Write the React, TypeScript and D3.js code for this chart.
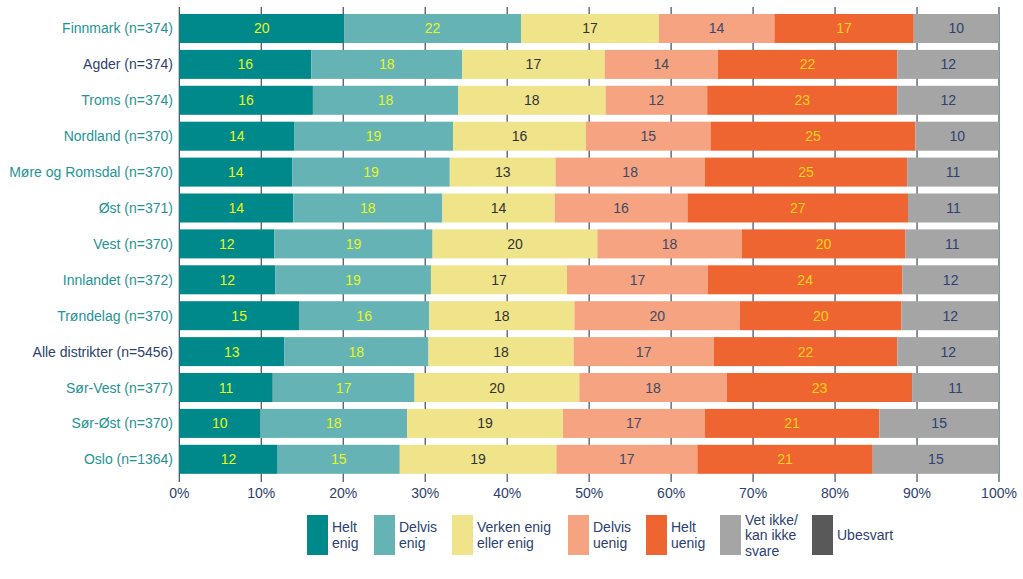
import React from "react";
import * as d3 from "d3";

const categories = [
  "Finnmark (n=374)",
  "Agder (n=374)",
  "Troms (n=374)",
  "Nordland (n=370)",
  "Møre og Romsdal (n=370)",
  "Øst (n=371)",
  "Vest (n=370)",
  "Innlandet (n=372)",
  "Trøndelag (n=370)",
  "Alle distrikter (n=5456)",
  "Sør-Vest (n=377)",
  "Sør-Øst (n=370)",
  "Oslo (n=1364)",
];
const highlighted = ["Agder (n=374)", "Alle distrikter (n=5456)"];

const seriesNames = ["Helt enig", "Delvis enig", "Verken enig eller enig", "Delvis uenig", "Helt uenig", "Vet ikke/ kan ikke svare", "Ubesvart"];
const legendLines = [["Helt", "enig"], ["Delvis", "enig"], ["Verken enig", "eller enig"], ["Delvis", "uenig"], ["Helt", "uenig"], ["Vet ikke/", "kan ikke", "svare"], ["Ubesvart"]];

const heltEnig = [20.1, 16.1, 16.3, 14.0, 13.8, 13.9, 11.6, 11.7, 14.6, 12.8, 11.4, 9.9, 12.0];
const delvisEnig = [21.6, 18.4, 17.7, 19.4, 19.2, 18.2, 19.3, 19.0, 15.9, 17.6, 17.3, 17.9, 14.9];
const verken = [16.8, 17.4, 18.0, 16.2, 12.9, 13.7, 20.1, 16.6, 17.7, 17.7, 20.1, 19.0, 19.1];
const delvisUenig = [14.1, 13.8, 12.4, 15.2, 18.2, 16.2, 17.6, 17.2, 20.2, 17.1, 18.0, 17.3, 17.2];
const heltUenig = [17.0, 21.9, 23.2, 25.0, 24.7, 26.9, 20.0, 23.7, 19.7, 22.4, 22.6, 21.3, 21.4];
const vetIkke = [10.4, 12.4, 12.4, 10.2, 11.2, 11.1, 11.4, 11.8, 11.9, 12.4, 10.6, 14.6, 15.4];
const ubesvart = [0, 0, 0, 0, 0, 0, 0, 0, 0, 0, 0, 0, 0];

const xTicks = [0, 10, 20, 30, 40, 50, 60, 70, 80, 90, 100];

const series = [heltEnig, delvisEnig, verken, delvisUenig, heltUenig, vetIkke, ubesvart];
const colors = ["#00898a", "#66b3b5", "#efe48a", "#f5a381", "#ef6531", "#a5a5a5", "#595959"];
const labelColors = ["#e8f51c", "#e8f51c", "#333333", "#3d4a66", "#ffd21a", "#2f4170", "#ffffff"];

const navy = "#2c4170";
const teal = "#1d9496";
const font = "'Liberation Sans', Arial, sans-serif";

export default function App() {
  const width = 1023;
  const height = 579;
  const x = d3.scaleLinear().domain([0, 100]).range([179.3, 999]);
  const y = d3.scaleBand<string>().domain(categories).range([7.1, 480.7]).padding(0.192);

  const rows = categories.map((c, i) => {
    let acc = 0;
    return series.map((s, k) => {
      const v = s[i];
      const seg = { k, x0: acc, x1: acc + v, v };
      acc += v;
      return seg;
    });
  });

  const legendX = [307, 374, 452, 568, 646, 720, 812];
  const fs = 14;

  return (
    <svg width={width} height={height} style={{ position: "absolute", left: 0, top: 0, fontFamily: font }}>
      <rect width={width} height={height} fill="#ffffff" />
      {xTicks.map((t) => (
        <line key={t} x1={x(t)} x2={x(t)} y1={7} y2={482} stroke="#3b4a68" strokeWidth={1.2} />
      ))}
      {categories.map((c, i) => (
        <g key={c}>
          {rows[i].map((s) =>
            s.v > 0 ? (
              <g key={s.k}>
                <rect x={x(s.x0)} y={y(c)} width={x(s.x1) - x(s.x0)} height={y.bandwidth()} fill={colors[s.k]} />
                <text
                  x={(x(s.x0) + x(s.x1)) / 2}
                  y={(y(c) as number) + y.bandwidth() / 2}
                  textAnchor="middle"
                  dominantBaseline="central"
                  fontSize={fs}
                  fill={labelColors[s.k]}
                >
                  {Math.round(s.v)}
                </text>
              </g>
            ) : null
          )}
          <text
            x={173}
            y={(y(c) as number) + y.bandwidth() / 2}
            textAnchor="end"
            dominantBaseline="central"
            fontSize={fs}
            fill={highlighted.includes(c) ? navy : teal}
          >
            {c}
          </text>
        </g>
      ))}
      {xTicks.map((t) => (
        <text key={"l" + t} x={x(t)} y={493} textAnchor="middle" dominantBaseline="central" fontSize={fs} fill={navy}>
          {t + "%"}
        </text>
      ))}
      {seriesNames.map((n, k) => {
        const lines = legendLines[k];
        const lh = 15.5;
        const cy = 535;
        const start = cy - ((lines.length - 1) * lh) / 2;
        return (
          <g key={n}>
            <rect x={legendX[k]} y={515} width={21} height={40} fill={colors[k]} />
            {lines.map((ln, j) => (
              <text key={j} x={legendX[k] + 25} y={start + j * lh} dominantBaseline="central" fontSize={fs} fill={navy}>
                {ln}
              </text>
            ))}
          </g>
        );
      })}
    </svg>
  );
}
